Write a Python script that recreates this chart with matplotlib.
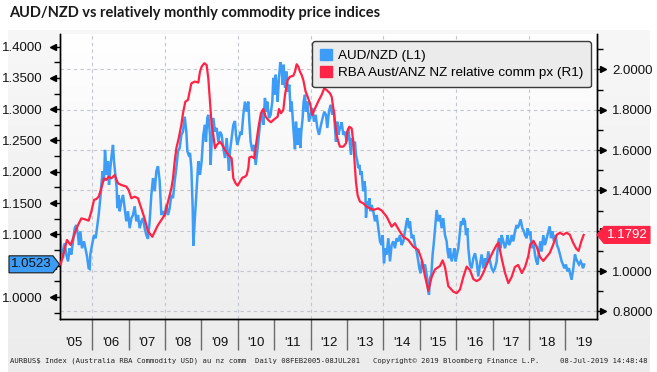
import numpy as np
import matplotlib
matplotlib.use("Agg")
import matplotlib.pyplot as plt
import matplotlib.transforms as mtransforms
from matplotlib.patches import Patch, Polygon

# AUD/NZD (left axis), decimal year -> level
audnzd_t = [
    2005.104, 2005.150, 2005.195, 2005.241, 2005.287, 2005.333, 2005.378, 2005.424, 2005.470, 2005.516,
    2005.562, 2005.607, 2005.635, 2005.672, 2005.717, 2005.772, 2005.809, 2005.855, 2005.900, 2005.928,
    2005.946, 2005.992, 2006.047, 2006.093, 2006.139, 2006.175, 2006.221, 2006.248, 2006.285, 2006.322,
    2006.349, 2006.395, 2006.432, 2006.459, 2006.496, 2006.532, 2006.569, 2006.596, 2006.633, 2006.670,
    2006.688, 2006.725, 2006.752, 2006.798, 2006.844, 2006.890, 2006.935, 2006.981, 2007.027, 2007.073,
    2007.118, 2007.164, 2007.210, 2007.256, 2007.302, 2007.347, 2007.393, 2007.439, 2007.485, 2007.531,
    2007.576, 2007.622, 2007.668, 2007.714, 2007.760, 2007.805, 2007.851, 2007.897, 2007.943, 2007.988,
    2008.034, 2008.080, 2008.126, 2008.172, 2008.217, 2008.263, 2008.309, 2008.355, 2008.401, 2008.446,
    2008.492, 2008.538, 2008.584, 2008.611, 2008.648, 2008.685, 2008.721, 2008.758, 2008.776, 2008.813,
    2008.867, 2008.913, 2008.958, 2009.004, 2009.050, 2009.096, 2009.123, 2009.160, 2009.187, 2009.233,
    2009.251, 2009.279, 2009.325, 2009.370, 2009.416, 2009.462, 2009.508, 2009.554, 2009.599, 2009.645,
    2009.691, 2009.718, 2009.755, 2009.783, 2009.828, 2009.874, 2009.920, 2009.947, 2009.984, 2010.030,
    2010.075, 2010.103, 2010.149, 2010.195, 2010.240, 2010.286, 2010.314, 2010.350, 2010.396, 2010.442,
    2010.488, 2010.533, 2010.579, 2010.625, 2010.671, 2010.698, 2010.744, 2010.772, 2010.808, 2010.854,
    2010.900, 2010.945, 2010.973, 2011.000, 2011.037, 2011.065, 2011.092, 2011.129, 2011.165, 2011.202,
    2011.229, 2011.257, 2011.294, 2011.339, 2011.367, 2011.413, 2011.449, 2011.477, 2011.523, 2011.568,
    2011.596, 2011.641, 2011.678, 2011.715, 2011.742, 2011.779, 2011.806, 2011.843, 2011.870, 2011.907,
    2011.953, 2011.999, 2012.044, 2012.090, 2012.136, 2012.182, 2012.228, 2012.283, 2012.328, 2012.374,
    2012.420, 2012.457, 2012.502, 2012.548, 2012.594, 2012.640, 2012.667, 2012.695, 2012.731, 2012.759,
    2012.805, 2012.851, 2012.896, 2012.942, 2012.988, 2013.034, 2013.079, 2013.107, 2013.134, 2013.171,
    2013.217, 2013.244, 2013.281, 2013.308, 2013.336, 2013.372, 2013.400, 2013.427, 2013.446, 2013.473,
    2013.501, 2013.519, 2013.556, 2013.583, 2013.611, 2013.647, 2013.675, 2013.720, 2013.766, 2013.812,
    2013.858, 2013.904, 2013.949, 2013.977, 2014.014, 2014.050, 2014.087, 2014.133, 2014.178, 2014.224,
    2014.270, 2014.316, 2014.362, 2014.407, 2014.453, 2014.499, 2014.545, 2014.590, 2014.636, 2014.664,
    2014.700, 2014.728, 2014.774, 2014.819, 2014.865, 2014.911, 2014.957, 2014.984, 2015.021, 2015.058,
    2015.094, 2015.140, 2015.186, 2015.222, 2015.250, 2015.277, 2015.314, 2015.350, 2015.387, 2015.424,
    2015.460, 2015.506, 2015.552, 2015.598, 2015.644, 2015.689, 2015.735, 2015.762, 2015.799, 2015.827,
    2015.872, 2015.918, 2015.946, 2015.982, 2016.019, 2016.056, 2016.101, 2016.129, 2016.166, 2016.193,
    2016.239, 2016.266, 2016.303, 2016.331, 2016.376, 2016.422, 2016.468, 2016.514, 2016.559, 2016.605,
    2016.651, 2016.697, 2016.743, 2016.788, 2016.834, 2016.880, 2016.926, 2016.972, 2017.017, 2017.063,
    2017.109, 2017.155, 2017.182, 2017.219, 2017.246, 2017.292, 2017.338, 2017.384, 2017.411, 2017.448,
    2017.494, 2017.521, 2017.567, 2017.613, 2017.658, 2017.686, 2017.723, 2017.768, 2017.814, 2017.860,
    2017.887, 2017.933, 2017.961, 2017.997, 2018.034, 2018.071, 2018.116, 2018.162, 2018.199, 2018.235,
    2018.272, 2018.309, 2018.345, 2018.391, 2018.437, 2018.483, 2018.528, 2018.565, 2018.602, 2018.638,
    2018.684, 2018.730, 2018.766, 2018.803, 2018.849, 2018.895, 2018.931, 2018.968, 2019.014, 2019.050,
    2019.096, 2019.133, 2019.169, 2019.215, 2019.261, 2019.288, 2019.325, 2019.371, 2019.417, 2019.453,
    2019.481, 2019.515,
]
audnzd_v = [
    1.102, 1.078, 1.062, 1.086, 1.068, 1.057, 1.078, 1.068, 1.089, 1.110,
    1.115, 1.099, 1.083, 1.105, 1.078, 1.089, 1.078, 1.065, 1.046, 1.045,
    1.068, 1.083, 1.099, 1.094, 1.115, 1.131, 1.158, 1.179, 1.201, 1.185,
    1.235, 1.195, 1.217, 1.179, 1.206, 1.227, 1.243, 1.217, 1.195, 1.174,
    1.142, 1.163, 1.137, 1.153, 1.163, 1.142, 1.121, 1.137, 1.110, 1.126,
    1.131, 1.145, 1.121, 1.131, 1.110, 1.121, 1.126, 1.110, 1.099, 1.093,
    1.121, 1.163, 1.190, 1.169, 1.201, 1.209, 1.185, 1.131, 1.137, 1.129,
    1.147, 1.131, 1.142, 1.163, 1.158, 1.185, 1.206, 1.233, 1.238, 1.259,
    1.264, 1.288, 1.264, 1.233, 1.227, 1.230, 1.206, 1.142, 1.082, 1.121,
    1.174, 1.217, 1.195, 1.217, 1.259, 1.275, 1.248, 1.286, 1.291, 1.259,
    1.211, 1.248, 1.286, 1.264, 1.270, 1.248, 1.264, 1.259, 1.238, 1.222,
    1.254, 1.233, 1.202, 1.233, 1.254, 1.275, 1.281, 1.259, 1.243, 1.254,
    1.264, 1.259, 1.291, 1.312, 1.296, 1.312, 1.280, 1.248, 1.233, 1.243,
    1.211, 1.233, 1.259, 1.286, 1.296, 1.275, 1.318, 1.296, 1.312, 1.286,
    1.291, 1.312, 1.350, 1.323, 1.355, 1.339, 1.312, 1.350, 1.375, 1.366,
    1.339, 1.371, 1.334, 1.360, 1.328, 1.339, 1.296, 1.312, 1.270, 1.236,
    1.280, 1.243, 1.270, 1.238, 1.264, 1.286, 1.312, 1.323, 1.296, 1.312,
    1.280, 1.291, 1.302, 1.280, 1.291, 1.270, 1.259, 1.275, 1.286, 1.296,
    1.291, 1.270, 1.296, 1.307, 1.291, 1.299, 1.270, 1.248, 1.280, 1.259,
    1.270, 1.279, 1.259, 1.264, 1.248, 1.270, 1.243, 1.227, 1.254, 1.243,
    1.248, 1.227, 1.217, 1.206, 1.211, 1.195, 1.201, 1.179, 1.169, 1.185,
    1.174, 1.127, 1.153, 1.142, 1.158, 1.137, 1.147, 1.137, 1.121, 1.131,
    1.110, 1.089, 1.083, 1.099, 1.054, 1.078, 1.068, 1.094, 1.057, 1.083,
    1.089, 1.078, 1.094, 1.089, 1.099, 1.083, 1.089, 1.105, 1.121, 1.126,
    1.110, 1.121, 1.094, 1.099, 1.083, 1.073, 1.057, 1.046, 1.038, 1.057,
    1.046, 1.052, 1.036, 1.014, 1.004, 1.030, 1.036, 1.068, 1.089, 1.115,
    1.139, 1.121, 1.131, 1.110, 1.126, 1.099, 1.089, 1.073, 1.062, 1.078,
    1.057, 1.068, 1.078, 1.057, 1.068, 1.078, 1.105, 1.121, 1.115, 1.126,
    1.121, 1.099, 1.110, 1.078, 1.052, 1.046, 1.062, 1.070, 1.057, 1.033,
    1.052, 1.068, 1.046, 1.062, 1.052, 1.073, 1.057, 1.046, 1.041, 1.046,
    1.057, 1.089, 1.094, 1.078, 1.099, 1.089, 1.078, 1.089, 1.099, 1.083,
    1.089, 1.099, 1.089, 1.105, 1.115, 1.110, 1.115, 1.124, 1.110, 1.105,
    1.099, 1.094, 1.110, 1.099, 1.105, 1.078, 1.089, 1.068, 1.057, 1.052,
    1.073, 1.089, 1.073, 1.099, 1.083, 1.094, 1.105, 1.113, 1.094, 1.105,
    1.089, 1.099, 1.083, 1.078, 1.068, 1.057, 1.052, 1.046, 1.052, 1.041,
    1.046, 1.036, 1.028, 1.046, 1.068, 1.062, 1.057, 1.052, 1.057, 1.052,
    1.046, 1.052,
]

# RBA Aust / ANZ NZ relative commodity price index (right axis), monthly
comm_t = [
    2005.131, 2005.305, 2005.406, 2005.470, 2005.534, 2005.607, 2005.699, 2005.791, 2005.900, 2005.974,
    2006.047, 2006.111, 2006.175, 2006.248, 2006.322, 2006.386, 2006.450, 2006.523, 2006.615, 2006.706,
    2006.798, 2006.935, 2006.999, 2007.073, 2007.164, 2007.256, 2007.347, 2007.421, 2007.485, 2007.531,
    2007.576, 2007.650, 2007.714, 2007.805, 2007.897, 2007.988, 2008.080, 2008.172, 2008.217, 2008.263,
    2008.309, 2008.373, 2008.446, 2008.492, 2008.556, 2008.629, 2008.675, 2008.721, 2008.813, 2008.913,
    2008.958, 2009.004, 2009.077, 2009.141, 2009.187, 2009.233, 2009.279, 2009.325, 2009.370, 2009.416,
    2009.508, 2009.572, 2009.645, 2009.737, 2009.828, 2009.874, 2009.938, 2009.993, 2010.057, 2010.121,
    2010.195, 2010.240, 2010.286, 2010.314, 2010.378, 2010.451, 2010.497, 2010.561, 2010.634, 2010.698,
    2010.762, 2010.836, 2010.909, 2010.973, 2011.037, 2011.092, 2011.129, 2011.184, 2011.248, 2011.294,
    2011.367, 2011.431, 2011.523, 2011.568, 2011.614, 2011.660, 2011.706, 2011.751, 2011.797, 2011.861,
    2011.916, 2011.980, 2012.044, 2012.099, 2012.163, 2012.228, 2012.301, 2012.374, 2012.438, 2012.484,
    2012.530, 2012.576, 2012.622, 2012.667, 2012.713, 2012.759, 2012.805, 2012.896, 2012.970, 2013.006,
    2013.061, 2013.125, 2013.171, 2013.217, 2013.245, 2013.290, 2013.354, 2013.446, 2013.537, 2013.629,
    2013.720, 2013.858, 2013.950, 2014.087, 2014.224, 2014.316, 2014.453, 2014.545, 2014.682, 2014.819,
    2014.957, 2015.048, 2015.140, 2015.232, 2015.323, 2015.415, 2015.552, 2015.625, 2015.689, 2015.781,
    2015.918, 2016.010, 2016.102, 2016.193, 2016.285, 2016.376, 2016.468, 2016.560, 2016.651, 2016.740,
    2016.830, 2016.926, 2017.020, 2017.110, 2017.160, 2017.250, 2017.340, 2017.430, 2017.520, 2017.610,
    2017.700, 2017.800, 2017.890, 2017.980, 2018.030, 2018.120, 2018.210, 2018.300, 2018.390, 2018.480,
    2018.570, 2018.660, 2018.760, 2018.850, 2018.940, 2019.030, 2019.120, 2019.210, 2019.300, 2019.360,
    2019.440, 2019.500,
]
comm_v = [
    1.033, 1.154, 1.129, 1.162, 1.195, 1.228, 1.261, 1.257, 1.250, 1.295,
    1.353, 1.357, 1.369, 1.410, 1.460, 1.452, 1.468, 1.460, 1.476, 1.435,
    1.427, 1.419, 1.402, 1.361, 1.369, 1.361, 1.311, 1.270, 1.228, 1.195,
    1.187, 1.170, 1.195, 1.228, 1.253, 1.278, 1.344, 1.410, 1.460, 1.543,
    1.609, 1.658, 1.725, 1.783, 1.840, 1.849, 1.890, 1.931, 1.940, 1.935,
    1.989, 2.014, 2.031, 2.022, 1.956, 1.840, 1.725, 1.675, 1.609, 1.625,
    1.642, 1.625, 1.601, 1.576, 1.559, 1.460, 1.435, 1.424, 1.443, 1.463,
    1.468, 1.476, 1.510, 1.563, 1.568, 1.559, 1.625, 1.708, 1.783, 1.804,
    1.766, 1.749, 1.738, 1.749, 1.758, 1.766, 1.804, 1.783, 1.799, 1.874,
    1.948, 1.964, 1.969, 1.989, 2.026, 2.014, 1.989, 1.973, 1.948, 1.890,
    1.865, 1.832, 1.774, 1.799, 1.824, 1.849, 1.874, 1.907, 1.898, 1.890,
    1.882, 1.865, 1.807, 1.741, 1.675, 1.642, 1.617, 1.617, 1.634, 1.692,
    1.716, 1.708, 1.642, 1.510, 1.440, 1.375, 1.344, 1.336, 1.319, 1.311,
    1.303, 1.311, 1.300, 1.270, 1.220, 1.237, 1.195, 1.170, 1.154, 1.121,
    1.104, 1.058, 0.975, 0.902, 0.970, 1.008, 1.025, 1.053, 1.020, 0.925,
    0.898, 0.890, 0.908, 0.970, 1.022, 1.005, 0.960, 0.950, 0.960, 0.990,
    1.030, 1.065, 1.100, 1.130, 1.140, 1.060, 0.990, 0.940, 0.970, 1.020,
    1.030, 0.990, 1.020, 1.075, 1.130, 1.150, 1.120, 1.070, 1.050, 1.070,
    1.090, 1.130, 1.180, 1.190, 1.180, 1.190, 1.180, 1.140, 1.110, 1.100,
    1.150, 1.1792,
]

last_aud = 1.0523
last_comm = 1.1792

year_ticks = list(range(2006, 2020))
year_label_pos = [y + 0.5 for y in range(2005, 2020)]
year_labels = ["'05", "'06", "'07", "'08", "'09", "'10", "'11", "'12",
               "'13", "'14", "'15", "'16", "'17", "'18", "'19"]
left_ticks = [1.00, 1.05, 1.10, 1.15, 1.20, 1.25, 1.30, 1.35, 1.40]
left_minor = [0.975, 1.025, 1.075, 1.125, 1.175, 1.225, 1.275, 1.325, 1.375]
right_ticks = [0.8, 1.0, 1.2, 1.4, 1.6, 1.8, 2.0]
right_minor = [0.9, 1.1, 1.3, 1.5, 1.7, 1.9, 2.1]
grid_years = [2006, 2008, 2010, 2012, 2014, 2016, 2018]

BLUE = "#3d9df6"
RED = "#ff2345"
label_font = "Liberation Sans"

W, H = 657, 372
fig = plt.figure(figsize=(W / 100, H / 100), dpi=100)
fig.patch.set_facecolor("white")

# light grey panel behind the chart
bg = fig.add_axes([8 / W, 0, 642 / W, (H - 30) / H], zorder=-5)
grad = np.linspace(0, 1, 100).reshape(-1, 1)
bg.imshow(grad, cmap=matplotlib.colors.LinearSegmentedColormap.from_list("p", ["#f7f7f7", "#ececec"]),
          aspect="auto", extent=[0, 1, 0, 1])
bg.axis("off")

ax = fig.add_axes([59.5 / W, 1 - 319 / H, (597 - 59.5) / W, (319 - 34) / H])
ax2 = ax.twinx()

# plot area gradient
ax.imshow(grad, cmap=matplotlib.colors.LinearSegmentedColormap.from_list("a", ["#ffffff", "#eeeeee"]),
          aspect="auto", extent=[0, 1, 0, 1], transform=ax.transAxes, zorder=0)

ax.plot(audnzd_t, audnzd_v, color=BLUE, lw=1.8, zorder=3, solid_joinstyle="miter")
ax2.plot(comm_t, comm_v, color=RED, lw=1.6, zorder=3)

ax.set_xlim(2005.099, 2019.866)
ax.set_ylim(0.965, 1.420)
ax2.set_ylim(0.762, 2.176)

# grid: horizontal lines follow the right scale, vertical every two years
grid_tr = mtransforms.blended_transform_factory(ax.transAxes, ax2.transData)
for r in right_ticks:
    ax.plot([0, 1], [r, r], transform=grid_tr, color="#c3c6ce", lw=0.8, ls=(0, (3, 3)), zorder=1)
for g in grid_years:
    ax.axvline(g, color="#c3c6ce", lw=0.8, ls=(0, (3, 3)), zorder=1)

ax.spines["top"].set_visible(False)
ax2.spines["top"].set_visible(False)
for a in (ax, ax2):
    for s in ["left", "right", "bottom"]:
        a.spines[s].set_color("black")
        a.spines[s].set_linewidth(1.0)

# left axis (1.0500 sits under the last-value tag)
ax.set_yticks(left_ticks)
ax.set_yticklabels(["" if abs(v - 1.05) < 1e-9 else f"{v:.4f}" for v in left_ticks],
                   fontfamily=label_font, fontsize=9.5, color="#111111")
ax.set_yticks(left_minor, minor=True)
ax.tick_params(axis="y", which="major", direction="out", length=6, width=1, pad=6)
ax.tick_params(axis="y", which="minor", direction="out", length=4, width=1)

# right axis (1.2000 sits under the last-value tag)
ax2.set_yticks(right_ticks)
ax2.set_yticklabels(["" if abs(v - 1.2) < 1e-9 else f"{v:.4f}" for v in right_ticks],
                    fontfamily=label_font, fontsize=9.5, color="#111111")
ax2.set_yticks(right_minor, minor=True)
ax2.tick_params(axis="y", which="major", direction="out", length=6, width=1, pad=5)
ax2.tick_params(axis="y", which="minor", direction="out", length=4, width=1)

# small arrow heads on the major ticks
left_arrow = ax.get_yaxis_transform() + mtransforms.ScaledTranslation(-4.5 / 72, 0, fig.dpi_scale_trans)
ax.plot([0] * len(left_ticks), left_ticks, ls="none", marker="<", ms=4, color="black",
        transform=left_arrow, clip_on=False)
right_arrow = ax2.get_yaxis_transform() + mtransforms.ScaledTranslation(4.5 / 72, 0, fig.dpi_scale_trans)
ax2.plot([1] * len(right_ticks), right_ticks, ls="none", marker=">", ms=4, color="black",
         transform=right_arrow, clip_on=False)

# x axis: long year separators, labels centred in each year
ax.set_xticks(year_ticks)
ax.set_xticklabels([])
ax.tick_params(axis="x", which="major", direction="out", length=22, width=1, color="#6b6b6b")
ax.tick_params(axis="x", which="minor", length=0)
ax2.tick_params(axis="x", which="both", length=0)
lab_tr = ax.get_xaxis_transform() + mtransforms.ScaledTranslation(0, -0.245, fig.dpi_scale_trans)
for xp, lab in zip(year_label_pos, year_labels):
    ax.text(xp, 0, lab, transform=lab_tr, ha="center", va="center",
            fontfamily=label_font, fontsize=9.5, color="#111111", clip_on=False)

# legend
handles = [Patch(facecolor=BLUE, edgecolor=BLUE, label="AUD/NZD (L1)"),
           Patch(facecolor=RED, edgecolor=RED, label="RBA Aust/ANZ NZ relative comm px (R1)")]
leg = fig.legend(handles=handles, loc="upper left", bbox_to_anchor=(312 / W, 1 - 41 / H),
                 borderaxespad=0, prop={"family": label_font, "size": 9.7},
                 handlelength=0.85, handleheight=0.85, handletextpad=0.45, labelspacing=0.3,
                 borderpad=0.6, fancybox=True, framealpha=1, facecolor="#ebebeb", edgecolor="#3a3a3a")
leg.get_frame().set_linewidth(1.0)
leg.set_zorder(10)

# last-value tags
fig.canvas.draw()
ident = mtransforms.IdentityTransform()
yb = ax.transData.transform((2010, last_aud))[1]
fig.add_artist(Polygon([(9, yb - 8.5), (53, yb - 8.5), (59.5, yb), (53, yb + 8.5), (9, yb + 8.5)],
                       closed=True, facecolor=BLUE, edgecolor="#1a1a1a", lw=0.8, transform=ident))
fig.text(31, yb, f"{last_aud:.4f}", transform=ident, ha="center", va="center",
         fontfamily=label_font, fontsize=9.5, color="#111111")
yr = ax2.transData.transform((2010, last_comm))[1]
fig.add_artist(Polygon([(597, yr), (604, yr - 8.5), (650, yr - 8.5), (650, yr + 8.5), (604, yr + 8.5)],
                       closed=True, facecolor=RED, edgecolor=RED, lw=0.8, transform=ident))
fig.text(627, yr, f"{last_comm:.4f}", transform=ident, ha="center", va="center",
         fontfamily=label_font, fontsize=9.5, color="white")

# title and footer
fig.text(9 / W, 1 - 13 / H, "AUD/NZD vs relatively monthly commodity price indices",
         fontfamily="Lato", fontweight="bold", fontsize=10.5, color="#1a1a1a", va="center")
foot = dict(fontfamily="DejaVu Sans Mono", fontsize=5.2, color="#222222", va="center")
fig.text(10 / W, 1 - 361 / H, "AURBUS$ Index (Australia RBA Commodity USD) au nz comm  Daily 08FEB2005-08JUL201", **foot)
fig.text(373 / W, 1 - 361 / H, "Copyright\u00a9 2019 Bloomberg Finance L.P.", **foot)
fig.text(648 / W, 1 - 361 / H, "08-Jul-2019 14:48:48", ha="right", **foot)

fig.savefig("out.png", dpi=100)
